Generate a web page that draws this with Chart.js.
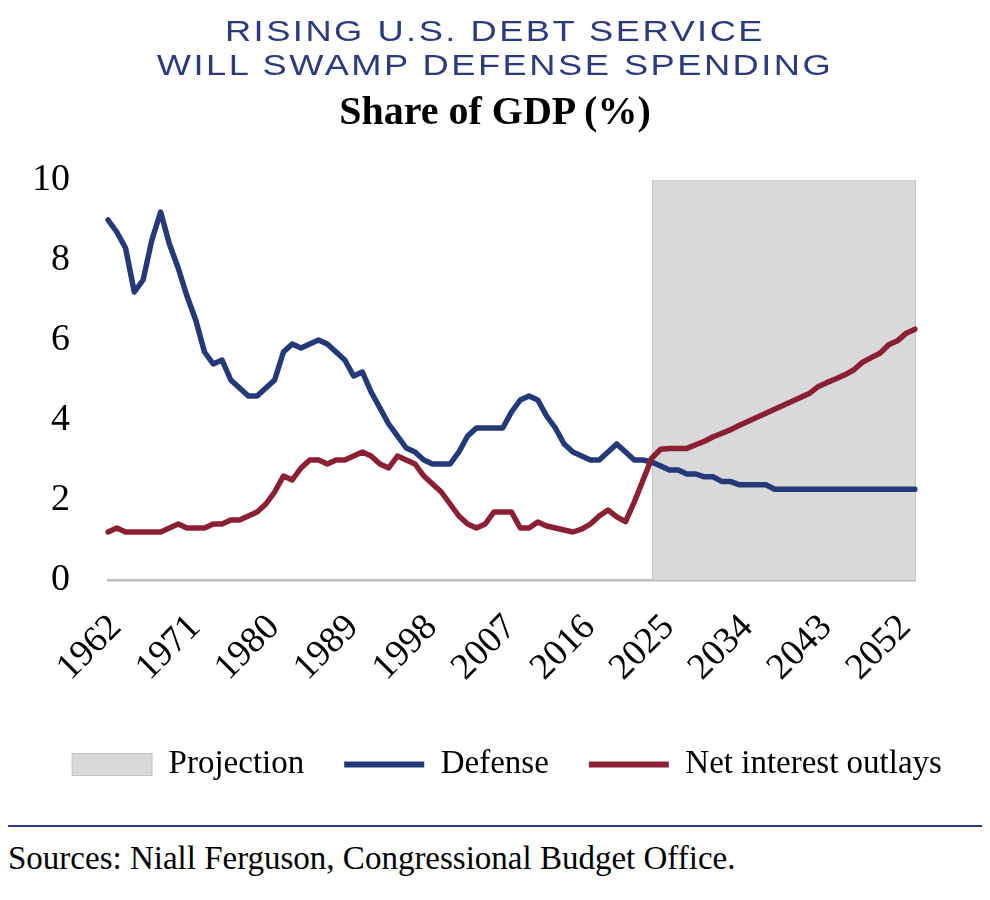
<!DOCTYPE html>
<html>
<head>
<meta charset="utf-8">
<script src="https://cdn.jsdelivr.net/npm/chart.js@4.4.1/dist/chart.umd.min.js"></script>
<style>
  body { margin:0; background:#fff; width:990px; height:900px; position:relative; overflow:hidden; }
  #chart { position:absolute; left:0; top:0; }
  #title { position:absolute; left:0; top:14px; width:990px; text-align:center; color:#2b3b7c;
           font-family:'Liberation Sans', sans-serif; font-size:29px; line-height:34px; letter-spacing:2px; }
  #title div { transform:scaleX(1.25); }
  #subtitle { position:absolute; left:0; top:91px; width:990px; text-align:center; color:#000;
              font-family:'Liberation Serif', serif; font-weight:bold; font-size:40px; line-height:40px; }
  #rule { position:absolute; left:8px; top:825px; width:974px; height:2px; background:#2b3b7c; }
  #source { position:absolute; left:8px; top:842px; font-family:'Liberation Serif', serif; font-size:33px; line-height:33px; color:#000; white-space:nowrap; }
</style>
</head>
<body>
<canvas id="chart" width="990" height="800"></canvas>
<div id="title"><div>RISING U.S. DEBT SERVICE</div><div>WILL SWAMP DEFENSE SPENDING</div></div>
<div id="subtitle">Share of GDP (%)</div>
<div id="rule"></div>
<div id="source">Sources: Niall Ferguson, Congressional Budget Office.</div>
<script>
const years = [
  1962,1963,1964,1965,1966,1967,1968,1969,1970,1971,
  1972,1973,1974,1975,1976,1977,1978,1979,1980,1981,
  1982,1983,1984,1985,1986,1987,1988,1989,1990,1991,
  1992,1993,1994,1995,1996,1997,1998,1999,2000,2001,
  2002,2003,2004,2005,2006,2007,2008,2009,2010,2011,
  2012,2013,2014,2015,2016,2017,2018,2019,2020,2021,
  2022,2023,2024,2025,2026,2027,2028,2029,2030,2031,
  2032,2033,2034,2035,2036,2037,2038,2039,2040,2041,
  2042,2043,2044,2045,2046,2047,2048,2049,2050,2051,
  2052,2053,2054
];
const tickYears = [1962,1971,1980,1989,1998,2007,2016,2025,2034,2043,2052];
const yTicks = [0,2,4,6,8,10];

const defense = [
  9.0, 8.7, 8.3, 7.2, 7.5, 8.5, 9.2, 8.4, 7.8, 7.1,
  6.5, 5.7, 5.4, 5.5, 5.0, 4.8, 4.6, 4.6, 4.8, 5.0,
  5.7, 5.9, 5.8, 5.9, 6.0, 5.9, 5.7, 5.5, 5.1, 5.2,
  4.7, 4.3, 3.9, 3.6, 3.3, 3.2, 3.0, 2.9, 2.9, 2.9,
  3.2, 3.6, 3.8, 3.8, 3.8, 3.8, 4.2, 4.5, 4.6, 4.5,
  4.1, 3.8, 3.4, 3.2, 3.1, 3.0, 3.0, 3.2, 3.4, 3.2,
  3.0, 3.0, 2.95, 2.85, 2.75, 2.75, 2.65, 2.65, 2.58, 2.58,
  2.46, 2.46, 2.38, 2.38, 2.38, 2.38, 2.27, 2.27, 2.27, 2.27,
  2.27, 2.27, 2.27, 2.27, 2.27, 2.27, 2.27, 2.27, 2.27, 2.27,
  2.27, 2.27, 2.27
];
const netInterest = [
  1.2, 1.3, 1.2, 1.2, 1.2, 1.2, 1.2, 1.3, 1.4, 1.3,
  1.3, 1.3, 1.4, 1.4, 1.5, 1.5, 1.6, 1.7, 1.9, 2.2,
  2.6, 2.5, 2.8, 3.0, 3.0, 2.9, 3.0, 3.0, 3.1, 3.2,
  3.1, 2.9, 2.8, 3.1, 3.0, 2.9, 2.6, 2.4, 2.2, 1.9,
  1.6, 1.4, 1.3, 1.4, 1.7, 1.7, 1.7, 1.3, 1.3, 1.45,
  1.35, 1.3, 1.25, 1.2, 1.27, 1.4, 1.6, 1.75, 1.58, 1.46,
  1.95, 2.5, 3.05, 3.27, 3.29, 3.29, 3.29, 3.38, 3.47, 3.58,
  3.67, 3.76, 3.87, 3.97, 4.07, 4.17, 4.27, 4.37, 4.47, 4.57,
  4.67, 4.84, 4.94, 5.03, 5.13, 5.25, 5.44, 5.56, 5.67, 5.88,
  5.98, 6.17, 6.27
];
const projectionStartYear = 2024;
const projectionTop = 10;
const projection = years.map(y => (y >= projectionStartYear ? projectionTop : null));

const BLUE = '#243a78';
const RED = '#8b2035';
const GRAY = '#d9d9d9';
const GRAY_EDGE = '#c4c4c4';

const projectionEdges = {
  id: 'projectionEdges',
  afterDatasetDraw(chart, args) {
    if (args.index !== 0) return;
    const xs = chart.scales.x, ys = chart.scales.y, ctx = chart.ctx;
    const first = projection.findIndex(v => v !== null);
    let last = projection.length - 1;
    while (last > 0 && projection[last] === null) last--;
    ctx.save();
    ctx.strokeStyle = GRAY_EDGE;
    ctx.lineWidth = 1;
    [first, last].forEach(i => {
      const px = Math.round(xs.getPixelForValue(i)) + 0.5;
      ctx.beginPath();
      ctx.moveTo(px, ys.getPixelForValue(projection[i]));
      ctx.lineTo(px, ys.getPixelForValue(0));
      ctx.stroke();
    });
    ctx.restore();
  }
};

Chart.defaults.font.family = "'Liberation Serif', serif";
Chart.defaults.color = '#000';

new Chart(document.getElementById('chart'), {
  type: 'line',
  data: {
    labels: years,
    datasets: [
      {
        label: 'Projection',
        data: projection,
        fill: 'origin',
        backgroundColor: GRAY,
        borderColor: GRAY_EDGE,
        borderWidth: 1,
        pointRadius: 0,
        pointHoverRadius: 0,
        pointStyle: 'rect',
        pointBackgroundColor: GRAY,
        pointBorderColor: GRAY_EDGE,
        pointBorderWidth: 1,
        order: 3
      },
      {
        label: 'Defense',
        data: defense,
        borderColor: BLUE,
        backgroundColor: BLUE,
        borderWidth: 5.5,
        borderJoinStyle: 'round',
        borderCapStyle: 'round',
        tension: 0,
        fill: false,
        pointRadius: 0,
        pointHoverRadius: 0,
        pointStyle: 'line',
        pointBorderColor: BLUE,
        pointBorderWidth: 6,
        order: 2
      },
      {
        label: 'Net interest outlays',
        data: netInterest,
        borderColor: RED,
        backgroundColor: RED,
        borderWidth: 5.5,
        borderJoinStyle: 'round',
        borderCapStyle: 'round',
        tension: 0,
        fill: false,
        pointRadius: 0,
        pointHoverRadius: 0,
        pointStyle: 'line',
        pointBorderColor: RED,
        pointBorderWidth: 6,
        order: 1
      }
    ]
  },
  options: {
    responsive: false,
    animation: false,
    devicePixelRatio: 1,
    layout: { padding: { top: 180, left: 24, right: 0, bottom: 9 } },
    plugins: {
      title: { display: false },
      tooltip: { enabled: false },
      legend: {
        position: 'bottom',
        labels: {
          usePointStyle: true,
          pointStyleWidth: 80,
          boxHeight: 22,
          padding: 40,
          color: '#000',
          font: { size: 33, family: "'Liberation Serif', serif" },
          sort: (a, b) => a.datasetIndex - b.datasetIndex
        }
      }
    },
    scales: {
      x: {
        type: 'category',
        grid: { display: false, drawTicks: false },
        border: { display: true, color: '#bdbdbd', width: 2.5 },
        ticks: {
          autoSkip: false,
          maxRotation: 45,
          minRotation: 45,
          padding: 26,
          labelOffset: 8,
          color: '#000',
          font: { size: 37, family: "'Liberation Serif', serif" },
          callback: function (val, idx) {
            return tickYears.includes(years[idx]) ? String(years[idx]) : '';
          }
        },
        afterFit: (scale) => { scale.height = 128; }
      },
      y: {
        min: 0,
        max: 10,
        grid: { display: false, drawTicks: false },
        border: { display: false },
        afterBuildTicks: (scale) => { scale.ticks = yTicks.map(v => ({ value: v })); },
        ticks: {
          padding: 38,
          color: '#000',
          font: { size: 38, family: "'Liberation Serif', serif" }
        },
        afterFit: (scale) => { scale.width = 84; }
      },
      yRight: {
        position: 'right',
        display: true,
        grid: { display: false, drawTicks: false },
        border: { display: false },
        ticks: { display: false },
        afterFit: (scale) => { scale.width = 75; }
      }
    }
  },
  plugins: [projectionEdges]
});
</script>
</body>
</html>
